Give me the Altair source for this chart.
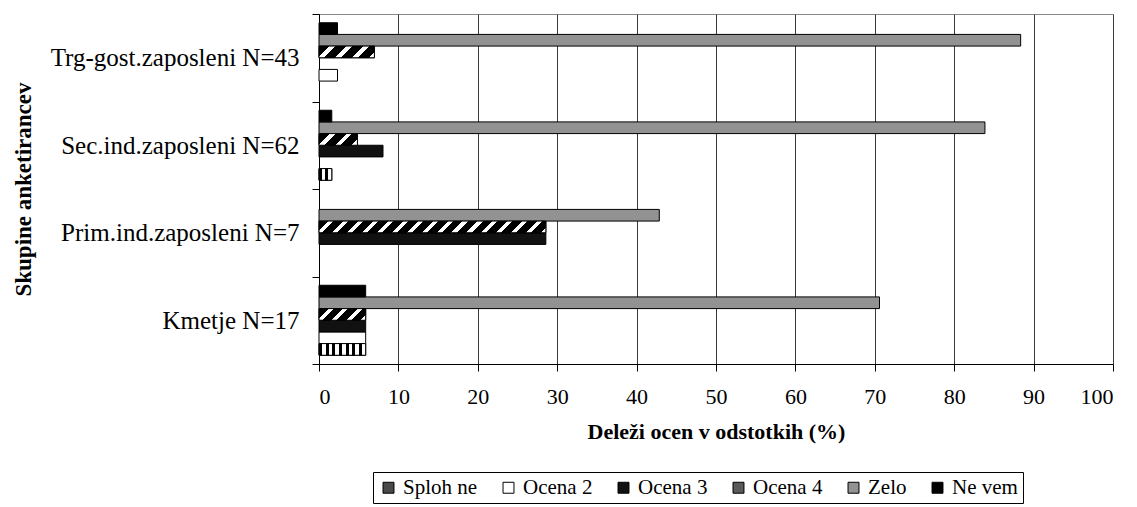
import altair as alt
import pandas as pd

# ---------------- data ----------------
groups = ["Trg-gost.zaposleni N=43", "Sec.ind.zaposleni N=62",
          "Prim.ind.zaposleni N=7", "Kmetje N=17"]
series = ["Sploh ne", "Ocena 2", "Ocena 3", "Ocena 4", "Zelo", "Ne vem"]
# shares (%) per group, in the order of `series`
trg = [0.0, 2.33, 0.0, 6.98, 88.37, 2.33]
sec = [1.61, 0.0, 8.06, 4.84, 83.87, 1.61]
prim = [0.0, 0.0, 28.57, 28.57, 42.86, 0.0]
kmet = [5.88, 5.88, 5.88, 5.88, 70.59, 5.88]
x_ticks = [0, 10, 20, 30, 40, 50, 60, 70, 80, 90, 100]

values_by_group = [trg, sec, prim, kmet]
rows = []
for g, vals in zip(groups, values_by_group):
    for s, v in zip(series, vals):
        if v > 0:
            rows.append({"group": g, "series": s, "value": v})
df = pd.DataFrame(rows)

# ---------------- styling ----------------
FONT = "Liberation Serif"
PLOT_W, PLOT_H = 794, 350
offset_order = ["Ne vem", "Zelo", "Ocena 4", "Ocena 3", "Ocena 2", "Sploh ne"]
flat_colors = ["#4a4a4a", "#ffffff", "#111111", "#5a5a5a", "#929292", "#000000"]

px_per_unit = PLOT_W / 100.0
bar_h = (PLOT_H / 4) / 7.5


def stops_from(pattern):
    return [alt.GradientStop(offset=o, color=c) for o, c in pattern]


def diag_gradient(w, h, period=15.0, white_frac=0.35):
    r = h / w
    k = (1 + r) / (1 + r * r)
    n = max(1, round((w + h) / period))
    pat = []
    for i in range(n):
        a = i / n
        b = (i + 1 - white_frac) / n
        c = (i + 1) / n
        pat += [(a, "#000000"), (b, "#000000"), (b, "#ffffff"), (c, "#ffffff")]
    return alt.LinearGradient(gradient="linear", stops=stops_from(pat),
                              x1=0, y1=0, x2=k, y2=k * r)


def vert_gradient(w, period=7.0, black_frac=0.45):
    n = max(1, round(w / period))
    pat = []
    for i in range(n):
        a = i / n
        b = (i + black_frac) / n
        c = (i + 1) / n
        pat += [(a, "#000000"), (b, "#000000"), (b, "#ffffff"), (c, "#ffffff")]
    return alt.LinearGradient(gradient="linear", stops=stops_from(pat),
                              x1=0, y1=0, x2=1, y2=0)


y_enc = alt.Y("group:N", sort=groups,
              scale=alt.Scale(domain=groups, paddingInner=0, paddingOuter=0),
              axis=alt.Axis(title="Skupine anketirancev", tickBand="extent",
                            titleFont=FONT, labelFont=FONT,
                            titleX=-296, titleY=PLOT_H / 2, titleAngle=270,
                            titleAlign="center", titleBaseline="middle"))
yoff_enc = alt.YOffset("series:N", sort=offset_order,
                       scale=alt.Scale(domain=offset_order, paddingInner=0, paddingOuter=0.75))
x_enc = alt.X("value:Q", scale=alt.Scale(domain=[0, 100], nice=False),
              axis=alt.Axis(title="Deleži ocen v odstotkih (%)", values=x_ticks,
                            titleFont=FONT, labelFont=FONT))

base = alt.Chart(df).mark_bar(stroke="black", strokeWidth=1).encode(
    y=y_enc,
    yOffset=yoff_enc,
    x=x_enc,
    color=alt.Color("series:N", sort=series,
                    scale=alt.Scale(domain=series, range=flat_colors),
                    legend=alt.Legend(title=None, orient="none", direction="horizontal",
                                      columns=6, legendX=54, legendY=458)),
)

layers = [base]
for g, vals in zip(groups, values_by_group):
    for s, v in zip(series, vals):
        if v <= 0:
            continue
        w = v * px_per_unit
        if s == "Ocena 4":
            grad = diag_gradient(w, bar_h)
        elif s == "Sploh ne":
            grad = vert_gradient(w)
        else:
            continue
        layers.append(
            alt.Chart(df).transform_filter(
                (alt.datum.group == g) & (alt.datum.series == s)
            ).mark_bar(fill=grad, stroke="black", strokeWidth=1).encode(
                y=alt.Y("group:N", sort=groups), yOffset=alt.YOffset("series:N", sort=offset_order),
                x=alt.X("value:Q")
            )
        )

chart = alt.layer(*layers).properties(
    width=PLOT_W, height=PLOT_H,
    autosize=alt.AutoSizeParams(type="none"),
    padding={"left": 319, "top": 14, "right": 24, "bottom": 143},
).configure(
    font=FONT
).configure_view(
    stroke="#8a8a8a", strokeWidth=1
).configure_axis(
    labelFont=FONT, titleFont=FONT, labelColor="black", titleColor="black",
    domainColor="black", tickColor="black", tickSize=7, domainWidth=1, tickWidth=1,
).configure_axisX(
    grid=True, gridColor="#3a3a3a", gridWidth=1, labelFontSize=22, labelPadding=15,
    titleFontSize=22, titleFontWeight="bold", titlePadding=14,
).configure_axisY(
    grid=False, labelFontSize=25, labelPadding=13, titleFontSize=23,
    titleFontWeight="bold", labelLimit=400,
).configure_legend(
    labelFont=FONT, labelFontSize=21, labelColor="black", strokeColor="black",
    padding=5, symbolType="square", symbolSize=120, symbolStrokeColor="black",
    symbolStrokeWidth=1, columnPadding=20, labelOffset=4, fillColor="white",
)

chart.save("out.html", embed_options={"renderer": "svg", "actions": False})
